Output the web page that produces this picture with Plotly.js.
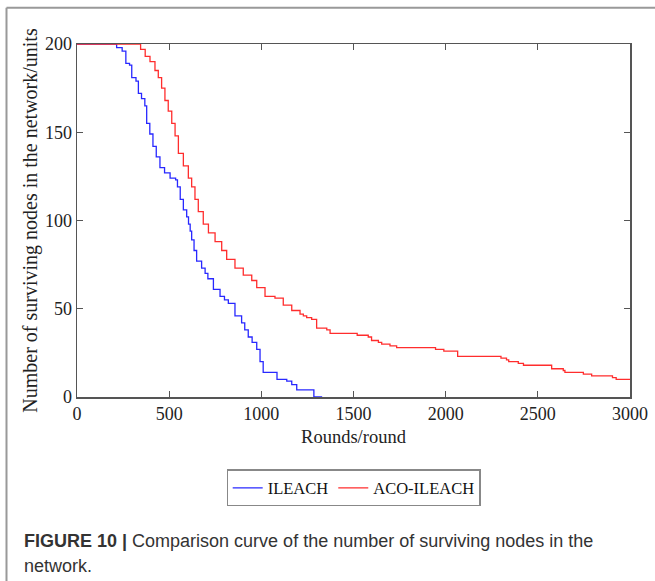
<!DOCTYPE html>
<html>
<head>
<meta charset="utf-8">
<script src="https://cdn.plot.ly/plotly-3.0.1.min.js"></script>
<style>
  html, body { margin: 0; padding: 0; background: #fff; }
  #chart { width: 655px; height: 581px; }
</style>
</head>
<body>
<div id="chart"></div>
<script>
// ILEACH (blue)
const ileachRounds = [0, 190, 215, 245, 265, 285, 297, 320, 333, 350, 368, 378, 395, 412, 430, 450, 475, 505, 535, 545, 560, 577, 595, 605, 614, 622, 635, 649, 676, 695, 710, 740, 776, 800, 821, 857, 893, 910, 929, 950, 975, 993, 1010, 1075, 1085, 1138, 1165, 1192, 1246, 1285, 1330];
const ileachNodes  = [200, 200, 198, 196, 189, 188, 181, 179, 172, 169, 165, 155, 149, 142, 136, 130, 127, 124, 123, 119, 112, 106, 102, 98, 94, 89, 83, 77, 73, 70, 67, 61, 57, 55, 53, 46, 42, 38, 34, 31, 27, 20, 14, 14, 10, 9, 7, 4, 4, 0, 0];

// ACO-ILEACH (red)
const acoRounds = [0, 320, 345, 370, 396, 423, 441, 459, 477, 495, 514, 532, 550, 577, 604, 622, 640, 658, 685, 713, 749, 785, 812, 857, 902, 948, 975, 1020, 1074, 1119, 1165, 1210, 1228, 1246, 1273, 1300, 1355, 1373, 1520, 1580, 1598, 1635, 1653, 1698, 1734, 1945, 1990, 2065, 2300, 2330, 2342, 2394, 2422, 2575, 2638, 2647, 2747, 2792, 2905, 2925, 2940, 3000];
const acoNodes  = [200, 200, 197, 193, 190, 185, 181, 175, 168, 162, 155, 148, 138, 131, 124, 119, 112, 105, 98, 93, 88, 83, 78, 73, 69, 66, 62, 57, 56, 52, 49, 47, 46, 45, 44, 39, 38, 36, 35, 34, 32, 31, 30, 29, 28, 27, 26, 23, 22, 21, 20, 19, 18, 16, 15, 14, 13, 12, 11, 10, 10, 10];

const xTicks = [0, 500, 1000, 1500, 2000, 2500, 3000];
const yTicks = [0, 50, 100, 150, 200];

const serif = 'Liberation Serif, Times New Roman, serif';
const sans = 'Liberation Sans, Arial, Helvetica, sans-serif';

const traces = [
  { x: ileachRounds, y: ileachNodes, name: 'ILEACH', type: 'scatter', mode: 'lines',
    line: { color: 'rgb(40,40,255)', width: 1.3, shape: 'hv' } },
  { x: acoRounds, y: acoNodes, name: 'ACO-ILEACH', type: 'scatter', mode: 'lines',
    line: { color: 'rgb(255,45,45)', width: 1.3, shape: 'hv' } }
];

const layout = {
  width: 655, height: 581,
  margin: { l: 77, r: 25, t: 44, b: 184 },
  paper_bgcolor: '#fff', plot_bgcolor: '#fff',
  showlegend: true,
  legend: {
    orientation: 'h', x: 0.5, xanchor: 'center', y: -0.205, yanchor: 'top',
    bordercolor: '#888', borderwidth: 1.2, bgcolor: '#fff',
    font: { family: serif, size: 16.5, color: '#111' },
    itemwidth: 30, tracegroupgap: 0
  },
  xaxis: {
    range: [0, 3000], tickvals: xTicks, ticktext: xTicks.map(String),
    showgrid: false, zeroline: false, showline: true, mirror: 'ticks',
    linecolor: '#555', linewidth: 1.5, ticks: 'inside', ticklen: 6, tickcolor: '#555', tickwidth: 1.2,
    tickfont: { family: serif, size: 18, color: '#222' },
    title: { text: 'Rounds/round', font: { family: serif, size: 18.5, color: '#222' }, standoff: 7 },
    fixedrange: true
  },
  yaxis: {
    range: [0, 200], tickvals: yTicks, ticktext: yTicks.map(String),
    showgrid: false, zeroline: false, showline: true, mirror: 'ticks',
    linecolor: '#555', linewidth: 1.5, ticks: 'inside', ticklen: 6, tickcolor: '#555', tickwidth: 1.2,
    tickfont: { family: serif, size: 18, color: '#222' },
    title: { text: 'Number of surviving nodes in the network/units', font: { family: serif, size: 20, color: '#222' }, standoff: 2 },
    fixedrange: true
  },
  shapes: [
    { type: 'line', xref: 'paper', yref: 'paper', x0: -0.1275, x1: -0.1275, y0: 1.103, y1: -0.54,
      line: { color: '#999', width: 2 } },
    { type: 'line', xref: 'paper', yref: 'paper', x0: -0.1275, x1: 1.05, y0: 1.103, y1: 1.103,
      line: { color: '#999', width: 2 } }
  ],
  annotations: [
    { xref: 'paper', yref: 'paper', x: -0.0995, y: -0.4075, xanchor: 'left', yanchor: 'middle',
      showarrow: false, align: 'left',
      text: '<b>FIGURE 10 |</b> Comparison curve of the number of surviving nodes in the',
      font: { family: sans, size: 18, color: '#333' } },
    { xref: 'paper', yref: 'paper', x: -0.0995, y: -0.4785, xanchor: 'left', yanchor: 'middle',
      showarrow: false, align: 'left',
      text: 'network.',
      font: { family: sans, size: 18, color: '#333' } }
  ]
};

Plotly.newPlot('chart', traces, layout, { displayModeBar: false, staticPlot: true });
</script>
</body>
</html>
